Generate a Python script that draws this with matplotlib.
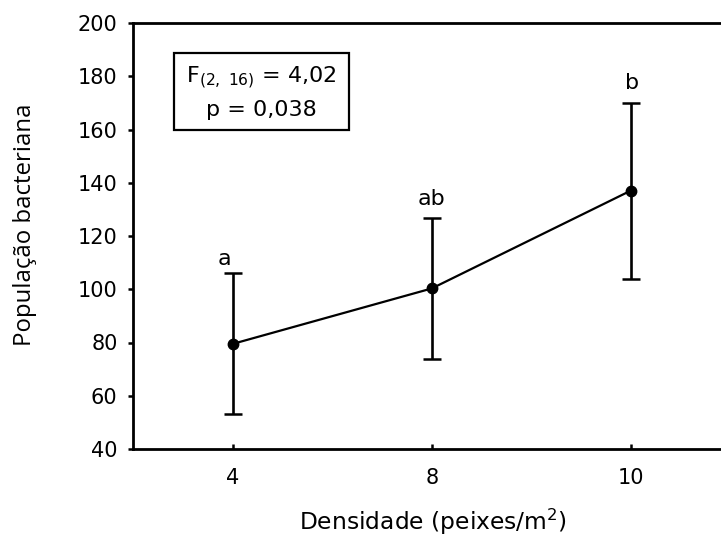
import matplotlib
matplotlib.use("Agg")
import matplotlib.pyplot as plt
from matplotlib.patches import Rectangle

categories = ["4", "8", "10"]
means = [79.5, 100.3, 137.0]
errors = [26.5, 26.5, 33.0]
letters = ["a", "ab", "b"]
yticks = [40, 60, 80, 100, 120, 140, 160, 180, 200]

plt.rcParams['font.family'] = ['DejaVu Sans']
plt.rcParams['mathtext.fontset'] = 'dejavusans'

W, H = 721, 539
fig = plt.figure(figsize=(W / 100, H / 100), dpi=100)
L, R, T, B = 133, 721, 23, 449
ax = fig.add_axes([L / W, (H - B) / H, (R - L) / W, (B - T) / H])

x = list(range(len(categories)))
ax.errorbar(x, means, yerr=errors, color='black', lw=1.6, marker='o', ms=7.5,
            capsize=6.8, capthick=1.8, elinewidth=1.9)

# letter placement (offsets in points)
letter_dx = [-6, 0, 1.3]
letter_dy = [6, 9.5, 10]
for xi, m, e, lab, dx, dy in zip(x, means, errors, letters, letter_dx, letter_dy):
    ax.annotate(lab, (xi, m + e), xytext=(dx, dy), textcoords='offset points',
                ha='center', va='baseline', fontsize=16)

spacing = 199.0
ax.set_xlim(-100 / spacing, len(categories) - 1 + (R - 630.5) / spacing)
ax.set_ylim(40, 200)
ax.set_xticks(x)
ax.set_xticklabels(categories)
ax.set_yticks(yticks)
ax.tick_params(axis='x', direction='in', length=3.6, width=1.8, pad=14, labelsize=15)
ax.tick_params(axis='y', direction='out', length=3.6, width=1.8, pad=7.5, labelsize=15)
ax.spines['right'].set_visible(False)
for s in ['left', 'bottom', 'top']:
    ax.spines[s].set_linewidth(2.0)

ax.set_xlabel('Densidade (peixes/m$^2$)', fontsize=16.8)
ax.xaxis.set_label_coords((433 - L) / (R - L), (B - 507) / (B - T))
ax.set_ylabel('População bacteriana', fontsize=17.3, family='Open Sans')
ax.yaxis.set_label_coords((37 - L) / (R - L), (B - 225) / (B - T))

# stats box
bx0, bx1, by0, by1 = 174, 349, 53, 130
rect = Rectangle((bx0 / W, 1 - by1 / H), (bx1 - bx0) / W, (by1 - by0) / H,
                 transform=fig.transFigure, fill=False, lw=1.6, edgecolor='black')
fig.patches.append(rect)
cx = (bx0 + bx1) / 2 / W
fig.text(cx, 1 - 83 / H, r'F$_{(2,\ 16)}$ = 4,02', ha='center', va='baseline', fontsize=16)
fig.text(cx, 1 - 116 / H, 'p = 0,038', ha='center', va='baseline', fontsize=16)

fig.savefig('out.png', dpi=100)
